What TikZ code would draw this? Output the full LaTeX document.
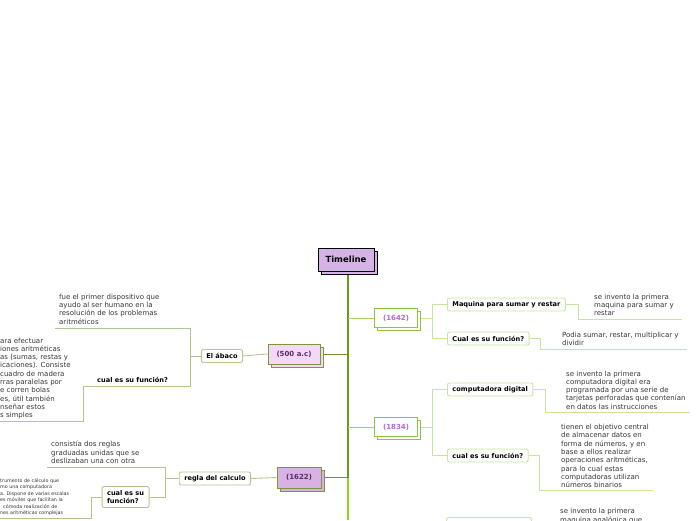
\documentclass[tikz,border=0pt]{standalone}
\usepackage{fontspec}
\setmainfont{DejaVu Sans}
\usetikzlibrary{positioning,shadows,backgrounds}
\definecolor{Trunk}{HTML}{6A9A1C}
\definecolor{TrunkLow}{HTML}{8ED420}
\definecolor{RBranch}{HTML}{A2D65C}
\definecolor{RLine}{HTML}{C6E69E}
\definecolor{LLine}{HTML}{B2C790}
\definecolor{LBranch}{HTML}{6E8E34}
\definecolor{RYear}{HTML}{8CC63C}
\definecolor{RYearText}{HTML}{B36AD2}
\definecolor{LYear}{HTML}{7A983A}
\definecolor{LYearText}{HTML}{5A2E66}
\definecolor{Lilac}{HTML}{D6B3E6}
\definecolor{Blush}{HTML}{F3D9F7}
\definecolor{Mauve}{HTML}{D8B2E3}
\definecolor{Ink}{HTML}{363636}

\begin{document}
\begin{tikzpicture}[x=1pt,y=-1pt,
    txt/.style={inner sep=0,align=left,anchor=west,text=Ink,font=\fontsize{7}{8.3}\selectfont},
    tiny/.style={txt,font=\fontsize{4.8}{6.5}\selectfont},
    lbl/.style={font=\bfseries\fontsize{6.6}{7.6}\selectfont},
    rbox/.style={lbl,draw=RLine,fill=white,rounded corners=2pt,line width=0.9pt,minimum height=13,inner xsep=5,inner ysep=0},
    lbox/.style={rbox,draw=LLine},
    topic/.style={draw=black,fill=Lilac,line width=0.9pt,minimum width=56,minimum height=23,font=\bfseries\fontsize{8.5}{9}\selectfont,copy shadow={shadow xshift=3pt,shadow yshift=-3pt}},
    yearR/.style={draw=RYear,fill=white,line width=0.9pt,minimum width=43,minimum height=19,text=RYearText,font=\bfseries\fontsize{7}{8}\selectfont,copy shadow={shadow xshift=3pt,shadow yshift=-3pt}},
    yearL/.style={yearR,draw=LYear,text=LYearText},
    rline/.style={RLine,line width=0.9pt},
    lline/.style={LLine,line width=0.9pt}]
  \useasboundingbox (0,0) rectangle (696,520);
  \clip (0,0) rectangle (696,520);

  % centre and years
  \node[topic] (timeline) at (346,259.5) {Timeline};
  \coordinate (t0) at (348,275);
  \coordinate (t1) at (348,520);
  \node[yearR] (y1642) at (396,318) {(1642)};
  \node[yearR] (y1834) at (396,427) {(1834)};
  \node[yearL,fill=Blush,minimum width=52,minimum height=20] (y500) at (294,354) {(500 a.c)};
  \node[yearL,fill=Mauve,minimum width=44,minimum height=21] (y1622) at (299,477.5) {(1622)};

  % right side
  \node[rbox,anchor=west] (maq) at (447,304.5) {Maquina para sumar y restar};
  \node[rbox,anchor=west] (fun1) at (447,338.5) {Cual es su función?};
  \node[rbox,anchor=west] (comp) at (447,389.5) {computadora digital};
  \node[rbox,anchor=west] (fun2) at (447,455.5) {cual es su función?};
  \node[rbox,anchor=north west,minimum width=85] (analog) at (446,517) {};
  \node[txt] (maqtxt) at (594,305) {se invento la primera\\maquina para sumar y\\restar};
  \node[txt] (fun1txt) at (562,339) {Podia sumar, restar, multiplicar y\\dividir};
  \node[txt] (comptxt) at (566,390) {se invento la primera\\computadora digital era\\programada por una serie de\\tarjetas perforadas que contenían\\en datos las instrucciones};
  \node[txt] (fun2txt) at (561,456) {tienen el objetivo central\\de almacenar datos en\\forma de números, y en\\base a ellos realizar\\operaciones aritméticas,\\para lo cual estas\\computadoras utilizan\\números binarios};
  \node[txt] (analogtxt) at (560,516) {se invento la primera\\maquina analógica que};
  \coordinate (maqend) at (682,319);
  \coordinate (fun1end) at (687,349.5);
  \coordinate (compend) at (690,412.5);
  \coordinate (fun2end) at (653,490);

  % left side
  \node[lbox,anchor=east] (abaco) at (243,356) {El ábaco};
  \node[txt] (fuetxt) at (59,309) {fue el primer dispositivo que\\ayudo al ser humano en la\\resolución de los problemas\\aritméticos};
  \node[lbl,anchor=west,inner sep=0] (fun0) at (97,379.5) {cual es su función?};
  \node[txt] (abtxt) at (0,378.5) {ara efectuar\\iones aritméticas\\as (sumas, restas y\\icaciones). Consiste\\cuadro de madera\\rras paralelas por\\e corren bolas\\es, útil también\\nseñar estos\\s simples};
  \node[lbox,anchor=east] (regla) at (251,478.5) {regla del calculo};
  \node[txt] (constxt) at (51,452.5) {consistía dos reglas\\graduadas unidas que se\\deslizaban una con otra};
  \node[lbox,align=left,minimum width=44,minimum height=21,anchor=east] (fun3) at (149.5,497) {cual es su\\función?};
  \node[tiny] (regtxt) at (0,497) {trumento de cálculo que\\mo una computadora\\a. Dispone de varias escalas\\es móviles que facilitan la\\\hspace{3pt}cómoda realización de\\nes aritméticas complejas};
  \coordinate (fueend) at (55,328.5);
  \coordinate (fun0end) at (83,386);
  \coordinate (abend) at (0,421);
  \coordinate (consend) at (47,467);
  \coordinate (regend) at (0,518);

  \begin{scope}[on background layer]
    \draw[Trunk,line width=1.3pt] (t0) -- (t0 |- y1622.east);
    \draw[TrunkLow,line width=1.3pt] (t0 |- y1622.east) -- (t1);
    \draw[RBranch,line width=1pt] (t0 |- y1642.west) -- (y1642.west);
    \draw[RBranch,line width=1pt] (t0 |- y1834.west) -- (y1834.west);
    \draw[LBranch,line width=1pt] (t0 |- y500.east) -- (y500.east);
    \draw[LBranch,line width=1pt] (t0 |- y1622.east) -- (y1622.east);
    \draw[rline] (y1642.east) -- ++(14.5,0) |- (maq.west);
    \draw[rline] (y1642.east) -- ++(14.5,0) |- (fun1.west);
    \draw[rline] (maq.east) -- ++(13,0) |- (maqend);
    \draw[rline] (fun1.east) -- ++(11,0) |- (fun1end);
    \draw[rline] (y1834.east) -- ++(14.5,0) |- (comp.west);
    \draw[rline] (y1834.east) -- ++(14.5,0) |- (fun2.west);
    \draw[rline] (comp.east) -- ++(12,0) |- (compend);
    \draw[rline] (fun2.east) -- ++(11,0) |- (fun2end);
    \draw[lline] (y500.west) -- (abaco.east);
    \draw[lline] (abaco.west) -- ++(-11,0) |- (fueend);
    \draw[lline] (abaco.west) -- ++(-11,0) |- (fun0end) |- (abend);
    \draw[lline] (y1622.west) -- (regla.east);
    \draw[lline] (regla.west) -- ++(-13,0) |- (consend);
    \draw[lline] (regla.west) -- ++(-13,0) |- (fun3.east);
    \draw[lline] (fun3.west) -- ++(-10,0) |- (regend);
  \end{scope}
\end{tikzpicture}
\end{document}
